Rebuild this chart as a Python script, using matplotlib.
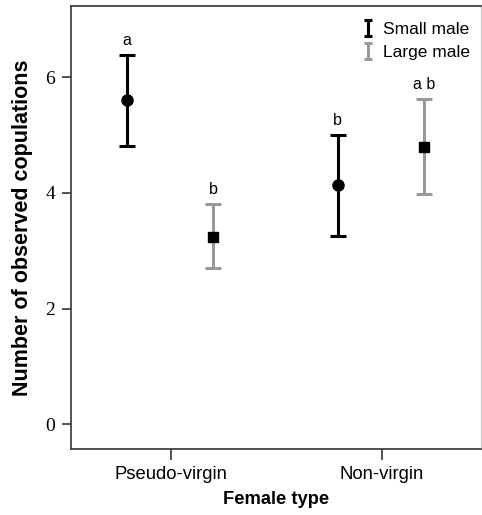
import numpy as np
import matplotlib
matplotlib.use("Agg")
import matplotlib.pyplot as plt
from matplotlib.path import Path
from matplotlib.lines import Line2D

# Данные
female_types = ["Pseudo-virgin", "Non-virgin"]
male_groups = ["Small male", "Large male"]
small_mean = [5.61, 4.13]
small_low = [4.81, 3.25]
small_high = [6.38, 5.00]
large_mean = [3.24, 4.80]
large_low = [2.70, 3.98]
large_high = [3.81, 5.62]
small_letters = ["a", "b"]
large_letters = ["b", "a b"]

sans = ["Liberation Sans", "DejaVu Sans"]
serif = ["Liberation Serif", "DejaVu Serif"]

fig = plt.figure(figsize=(4.82, 5.15), dpi=100)
ax = fig.add_axes([0.147, 0.128, 0.851, 0.860])

x = np.arange(1, len(female_types) + 1)
dodge = 0.2

series = [
    (small_mean, small_low, small_high, small_letters, "black", "o", 8, -dodge - 0.01),
    (large_mean, large_low, large_high, large_letters, "#999999", "s", 7.5, dodge),
]

for mean, low, high, letters, col, mk, ms, off in series:
    mean = np.array(mean)
    err = np.vstack([mean - np.array(low), np.array(high) - mean])
    xs = x + off
    ax.errorbar(xs, mean, yerr=err, fmt="none", ecolor=col, elinewidth=2.2,
                capsize=6, capthick=2.2)
    ax.plot(xs, mean, linestyle="none", marker=mk, markersize=ms, color="black")
    for xi, hi, lab in zip(xs, high, letters):
        ax.text(xi, hi + 0.12, lab, ha="center", va="bottom", fontsize=11.5, family=sans)

ax.set_xlim(0.526, 2.47)
ax.set_ylim(-0.43, 7.23)
ax.set_xticks(x)
ax.set_xticklabels(female_types, fontsize=13.3, family=sans)
ax.set_yticks([0, 2, 4, 6])
ax.set_yticklabels(["0", "2", "4", "6"], fontsize=14, family=serif)
ax.tick_params(axis="x", length=8, width=1.2, color="#333333", pad=4)
ax.tick_params(axis="y", length=6.5, width=1.2, color="#333333", pad=5)

for s in ["left", "bottom", "top"]:
    ax.spines[s].set_color("#444444")
    ax.spines[s].set_linewidth(1.3)
ax.spines["right"].set_color("#cccccc")
ax.spines["right"].set_linewidth(1.0)

ax.set_xlabel("Female type", fontsize=13.2, fontweight="bold", family=sans, labelpad=6)
ax.set_ylabel("Number of observed copulations", fontsize=15.5, fontweight="bold",
              family=sans, labelpad=9)

# значок легенды в форме буквы I
i_shape = Path([(-0.5, -1), (0.5, -1), (0, -1), (0, 1), (-0.5, 1), (0.5, 1)],
               [Path.MOVETO, Path.LINETO, Path.MOVETO, Path.LINETO, Path.MOVETO, Path.LINETO])
handles = [Line2D([], [], linestyle="none", marker=i_shape, markersize=11.5,
                  markeredgewidth=2.2, markeredgecolor=c, markerfacecolor="none")
           for c in ["black", "#999999"]]
ax.legend(handles, male_groups, loc="upper right", bbox_to_anchor=(1.012, 1.0),
          frameon=False, prop={"family": sans, "size": 12.5}, handlelength=0.6,
          handletextpad=0.6, labelspacing=0.45, borderaxespad=0.5)

fig.savefig("out.png", dpi=100)
